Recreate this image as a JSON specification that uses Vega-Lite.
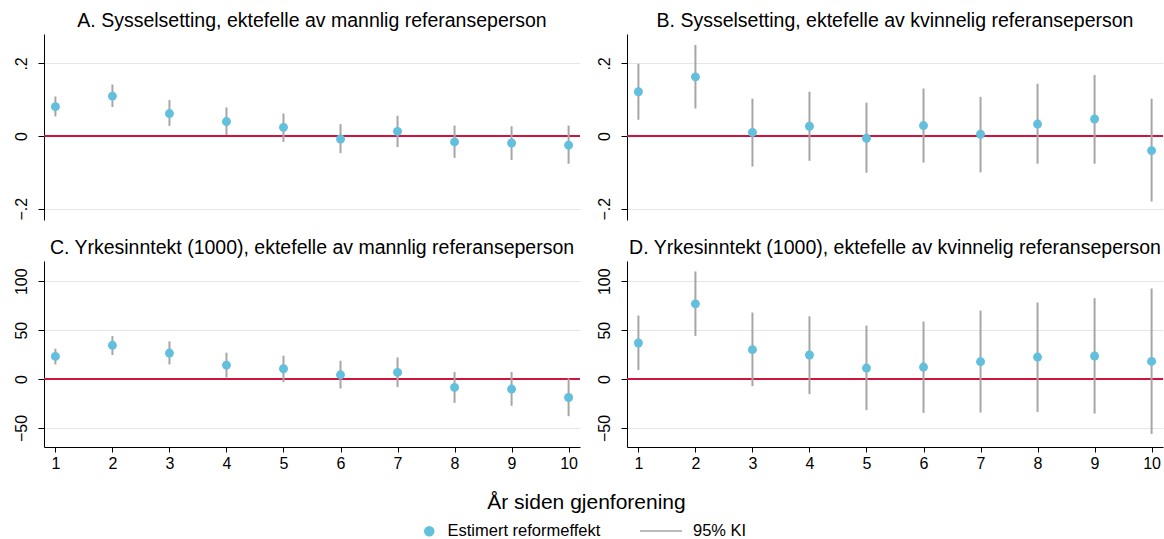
{
  "$schema": "https://vega.github.io/schema/vega-lite/v6.json",
  "background": "white",
  "padding": {"left": 13, "top": 10, "right": 0, "bottom": 0},
  "datasets": {
    "effects": [
      {"panel": "A", "year": 1, "est": 0.081, "lo": 0.054, "hi": 0.109},
      {"panel": "A", "year": 2, "est": 0.110, "lo": 0.080, "hi": 0.142},
      {"panel": "A", "year": 3, "est": 0.062, "lo": 0.028, "hi": 0.099},
      {"panel": "A", "year": 4, "est": 0.040, "lo": 0.003, "hi": 0.079},
      {"panel": "A", "year": 5, "est": 0.024, "lo": -0.016, "hi": 0.062},
      {"panel": "A", "year": 6, "est": -0.008, "lo": -0.047, "hi": 0.033},
      {"panel": "A", "year": 7, "est": 0.013, "lo": -0.030, "hi": 0.056},
      {"panel": "A", "year": 8, "est": -0.016, "lo": -0.060, "hi": 0.029},
      {"panel": "A", "year": 9, "est": -0.019, "lo": -0.066, "hi": 0.027},
      {"panel": "A", "year": 10, "est": -0.025, "lo": -0.076, "hi": 0.029},
      {"panel": "B", "year": 1, "est": 0.122, "lo": 0.045, "hi": 0.199},
      {"panel": "B", "year": 2, "est": 0.163, "lo": 0.076, "hi": 0.251},
      {"panel": "B", "year": 3, "est": 0.010, "lo": -0.084, "hi": 0.103},
      {"panel": "B", "year": 4, "est": 0.027, "lo": -0.068, "hi": 0.122},
      {"panel": "B", "year": 5, "est": -0.006, "lo": -0.101, "hi": 0.092},
      {"panel": "B", "year": 6, "est": 0.029, "lo": -0.073, "hi": 0.131},
      {"panel": "B", "year": 7, "est": 0.005, "lo": -0.100, "hi": 0.108},
      {"panel": "B", "year": 8, "est": 0.033, "lo": -0.076, "hi": 0.144},
      {"panel": "B", "year": 9, "est": 0.047, "lo": -0.076, "hi": 0.168},
      {"panel": "B", "year": 10, "est": -0.040, "lo": -0.180, "hi": 0.103},
      {"panel": "C", "year": 1, "est": 23.2, "lo": 15.0, "hi": 31.1},
      {"panel": "C", "year": 2, "est": 34.5, "lo": 24.6, "hi": 44.1},
      {"panel": "C", "year": 3, "est": 26.6, "lo": 15.0, "hi": 38.6},
      {"panel": "C", "year": 4, "est": 14.3, "lo": 1.7, "hi": 27.0},
      {"panel": "C", "year": 5, "est": 10.6, "lo": -3.1, "hi": 23.9},
      {"panel": "C", "year": 6, "est": 4.4, "lo": -9.6, "hi": 18.8},
      {"panel": "C", "year": 7, "est": 6.8, "lo": -8.2, "hi": 22.2},
      {"panel": "C", "year": 8, "est": -8.5, "lo": -24.3, "hi": 7.2},
      {"panel": "C", "year": 9, "est": -10.2, "lo": -27.3, "hi": 7.2},
      {"panel": "C", "year": 10, "est": -18.8, "lo": -37.9, "hi": 0.7},
      {"panel": "D", "year": 1, "est": 36.9, "lo": 9.2, "hi": 64.9},
      {"panel": "D", "year": 2, "est": 76.9, "lo": 44.1, "hi": 110.0},
      {"panel": "D", "year": 3, "est": 30.1, "lo": -7.2, "hi": 68.0},
      {"panel": "D", "year": 4, "est": 24.6, "lo": -15.4, "hi": 64.2},
      {"panel": "D", "year": 5, "est": 11.3, "lo": -31.8, "hi": 54.7},
      {"panel": "D", "year": 6, "est": 12.3, "lo": -34.5, "hi": 58.8},
      {"panel": "D", "year": 7, "est": 17.8, "lo": -34.2, "hi": 70.0},
      {"panel": "D", "year": 8, "est": 22.5, "lo": -33.5, "hi": 78.2},
      {"panel": "D", "year": 9, "est": 23.6, "lo": -35.2, "hi": 82.7},
      {"panel": "D", "year": 10, "est": 18.1, "lo": -56.0, "hi": 92.6}
    ]
  },
  "data": {"name": "effects"},
  "columns": 2,
  "bounds": "flush",
  "spacing": {"row": 41, "column": 47},
  "concat": [
    {
      "width": 536,
      "height": 186,
      "title": {"text": "A. Sysselsetting, ektefelle av mannlig referanseperson"},
      "transform": [{"filter": "datum.panel == 'A'"}],
      "encoding": {
        "x": {"field": "year", "type": "quantitative", "scale": {"domain": [0.8, 10.2], "nice": false, "zero": false}, "axis": null}
      },
      "layer": [
        {
          "mark": {"type": "rule", "color": "#cf1440", "strokeWidth": 2},
          "encoding": {
            "x": null,
            "y": {"datum": 0, "type": "quantitative", "scale": {"domain": [-0.231, 0.281], "nice": false, "zero": false},
              "axis": {"title": null, "values": [-0.2, 0, 0.2], "labelExpr": "datum.value == 0 ? '0' : replace(format(datum.value, '.1f'), '0.', '.')"}}
          }
        },
        {
          "mark": {"type": "rule", "strokeWidth": 2},
          "encoding": {
            "y": {"field": "lo", "type": "quantitative"},
            "y2": {"field": "hi"},
            "stroke": {"datum": "95% KI", "type": "nominal", "scale": {"range": ["#a6a6a6"]},
              "legend": {"title": null, "orient": "none", "legendX": 595, "legendY": 475, "symbolType": "stroke", "symbolSize": 1764, "symbolStrokeWidth": 1.5, "labelOffset": 10, "labelFontSize": 16.5}}
          }
        },
        {
          "mark": {"type": "circle", "size": 80, "opacity": 1},
          "encoding": {
            "y": {"field": "est", "type": "quantitative"},
            "fill": {"datum": "Estimert reformeffekt", "type": "nominal", "scale": {"range": ["#62bfdd"]},
              "legend": {"title": null, "orient": "none", "legendX": 377, "legendY": 489, "symbolType": "circle", "symbolSize": 110, "labelOffset": 10, "labelFontSize": 16.5}}
          }
        }
      ]
    },
    {
      "width": 536,
      "height": 186,
      "title": {"text": "B. Sysselsetting, ektefelle av kvinnelig referanseperson"},
      "transform": [{"filter": "datum.panel == 'B'"}],
      "encoding": {
        "x": {"field": "year", "type": "quantitative", "scale": {"domain": [0.8, 10.2], "nice": false, "zero": false}, "axis": null}
      },
      "layer": [
        {
          "mark": {"type": "rule", "color": "#cf1440", "strokeWidth": 2},
          "encoding": {
            "x": null,
            "y": {"datum": 0, "type": "quantitative", "scale": {"domain": [-0.231, 0.281], "nice": false, "zero": false},
              "axis": {"title": null, "values": [-0.2, 0, 0.2], "labelExpr": "datum.value == 0 ? '0' : replace(format(datum.value, '.1f'), '0.', '.')"}}
          }
        },
        {
          "mark": {"type": "rule", "strokeWidth": 2},
          "encoding": {
            "y": {"field": "lo", "type": "quantitative"},
            "y2": {"field": "hi"},
            "stroke": {"datum": "95% KI", "type": "nominal", "scale": {"range": ["#a6a6a6"]},
              "legend": {"title": null, "orient": "none", "legendX": 595, "legendY": 475, "symbolType": "stroke", "symbolSize": 1764, "symbolStrokeWidth": 1.5, "labelOffset": 10, "labelFontSize": 16.5}}
          }
        },
        {
          "mark": {"type": "circle", "size": 80, "opacity": 1},
          "encoding": {
            "y": {"field": "est", "type": "quantitative"},
            "fill": {"datum": "Estimert reformeffekt", "type": "nominal", "scale": {"range": ["#62bfdd"]},
              "legend": {"title": null, "orient": "none", "legendX": 377, "legendY": 489, "symbolType": "circle", "symbolSize": 110, "labelOffset": 10, "labelFontSize": 16.5}}
          }
        }
      ]
    },
    {
      "width": 536,
      "height": 186,
      "title": {"text": "C. Yrkesinntekt (1000), ektefelle av mannlig referanseperson"},
      "transform": [{"filter": "datum.panel == 'C'"}],
      "encoding": {
        "x": {"field": "year", "type": "quantitative", "scale": {"domain": [0.8, 10.2], "nice": false, "zero": false},
          "axis": {"values": [1, 2, 3, 4, 5, 6, 7, 8, 9, 10], "grid": false, "tickSize": 5, "labelPadding": 3,
            "title": "År siden gjenforening", "titleFontSize": 21, "titleFontWeight": "normal", "titleX": 542, "titleAlign": "center", "titleBaseline": "top", "titlePadding": 20}}
      },
      "layer": [
        {
          "mark": {"type": "rule", "color": "#cf1440", "strokeWidth": 2},
          "encoding": {
            "x": null,
            "y": {"datum": 0, "type": "quantitative", "scale": {"domain": [-69.4, 120.7], "nice": false, "zero": false},
              "axis": {"title": null, "values": [-50, 0, 50, 100]}}
          }
        },
        {
          "mark": {"type": "rule", "strokeWidth": 2},
          "encoding": {
            "y": {"field": "lo", "type": "quantitative"},
            "y2": {"field": "hi"},
            "stroke": {"datum": "95% KI", "type": "nominal", "scale": {"range": ["#a6a6a6"]},
              "legend": {"title": null, "orient": "none", "legendX": 595, "legendY": 475, "symbolType": "stroke", "symbolSize": 1764, "symbolStrokeWidth": 1.5, "labelOffset": 10, "labelFontSize": 16.5}}
          }
        },
        {
          "mark": {"type": "circle", "size": 80, "opacity": 1},
          "encoding": {
            "y": {"field": "est", "type": "quantitative"},
            "fill": {"datum": "Estimert reformeffekt", "type": "nominal", "scale": {"range": ["#62bfdd"]},
              "legend": {"title": null, "orient": "none", "legendX": 377, "legendY": 489, "symbolType": "circle", "symbolSize": 110, "labelOffset": 10, "labelFontSize": 16.5}}
          }
        }
      ]
    },
    {
      "width": 536,
      "height": 186,
      "title": {"text": "D. Yrkesinntekt (1000), ektefelle av kvinnelig referanseperson"},
      "transform": [{"filter": "datum.panel == 'D'"}],
      "encoding": {
        "x": {"field": "year", "type": "quantitative", "scale": {"domain": [0.8, 10.2], "nice": false, "zero": false},
          "axis": {"values": [1, 2, 3, 4, 5, 6, 7, 8, 9, 10], "grid": false, "tickSize": 5, "labelPadding": 3, "title": null}}
      },
      "layer": [
        {
          "mark": {"type": "rule", "color": "#cf1440", "strokeWidth": 2},
          "encoding": {
            "x": null,
            "y": {"datum": 0, "type": "quantitative", "scale": {"domain": [-69.4, 120.7], "nice": false, "zero": false},
              "axis": {"title": null, "values": [-50, 0, 50, 100]}}
          }
        },
        {
          "mark": {"type": "rule", "strokeWidth": 2},
          "encoding": {
            "y": {"field": "lo", "type": "quantitative"},
            "y2": {"field": "hi"},
            "stroke": {"datum": "95% KI", "type": "nominal", "scale": {"range": ["#a6a6a6"]},
              "legend": {"title": null, "orient": "none", "legendX": 595, "legendY": 475, "symbolType": "stroke", "symbolSize": 1764, "symbolStrokeWidth": 1.5, "labelOffset": 10, "labelFontSize": 16.5}}
          }
        },
        {
          "mark": {"type": "circle", "size": 80, "opacity": 1},
          "encoding": {
            "y": {"field": "est", "type": "quantitative"},
            "fill": {"datum": "Estimert reformeffekt", "type": "nominal", "scale": {"range": ["#62bfdd"]},
              "legend": {"title": null, "orient": "none", "legendX": 377, "legendY": 489, "symbolType": "circle", "symbolSize": 110, "labelOffset": 10, "labelFontSize": 16.5}}
          }
        }
      ]
    }
  ],
  "config": {
    "font": "Liberation Sans",
    "view": {"stroke": null},
    "title": {"fontSize": 19.5, "fontWeight": "normal", "color": "black", "anchor": "middle", "baseline": "alphabetic", "offset": 3, "font": "Liberation Sans"},
    "axis": {
      "labelFont": "Liberation Sans", "labelFontSize": 16, "labelColor": "black",
      "titleFont": "Liberation Sans", "titleColor": "black",
      "domainColor": "black", "domainWidth": 1, "tickColor": "black", "tickWidth": 1,
      "gridColor": "#e6e6e6", "gridWidth": 1
    },
    "axisY": {"labelAngle": -90, "labelAlign": "center", "labelBaseline": "bottom", "tickSize": 6, "labelPadding": 9, "grid": true},
    "legend": {"labelFont": "Liberation Sans", "labelColor": "black", "padding": 0, "labelLimit": 400}
  }
}
